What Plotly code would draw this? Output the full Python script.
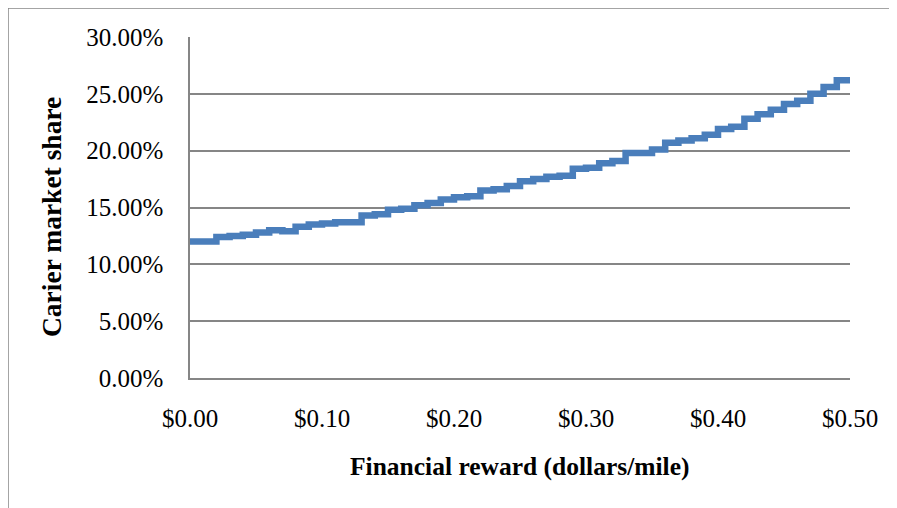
import plotly.graph_objects as go

# reward in dollars/mile, one point per cent
reward = [i / 100 for i in range(51)]
# carrier market share in percent
share = [11.8, 12.0, 12.0, 12.4, 12.5, 12.6, 12.8, 13.0, 12.9, 13.3,
         13.5, 13.6, 13.7, 13.7, 14.3, 14.4, 14.8, 14.9, 15.2, 15.4,
         15.7, 15.9, 16.0, 16.5, 16.6, 16.9, 17.3, 17.5, 17.7, 17.8,
         18.4, 18.5, 18.9, 19.1, 19.8, 19.8, 20.1, 20.7, 20.9, 21.1,
         21.4, 21.9, 22.1, 22.8, 23.2, 23.6, 24.1, 24.4, 25.0, 25.6,
         26.2]
x_ticks = [0, 0.1, 0.2, 0.3, 0.4, 0.5]
y_ticks = [0, 5, 10, 15, 20, 25, 30]

FONT = "Liberation Serif"

# page body adds 8px, so the figure is 8px smaller than the window
W, H = 889, 500
L, R, T, B = 182, 47, 29, 130
pw, ph = W - L - R, H - T - B

fig = go.Figure()
fig.add_trace(go.Scatter(x=reward, y=share, mode='lines', line_shape='vh',
                         line=dict(color='#4A7EBB', width=6.5), showlegend=False))

fig.update_layout(
    width=W, height=H,
    margin=dict(l=L, r=R, t=T, b=B),
    paper_bgcolor='white', plot_bgcolor='white',
    font=dict(family=FONT, size=25, color='black'),
    xaxis=dict(range=[0, 0.5], tickvals=x_ticks,
               ticktext=[f'${v:.2f}' for v in x_ticks],
               showgrid=False, zeroline=False,
               showline=True, linecolor='#868686', linewidth=1.5,
               ticks='', ticklabelstandoff=17),
    yaxis=dict(range=[0, 30], tickvals=y_ticks,
               ticktext=[f'{v:.2f}%' for v in y_ticks],
               showgrid=True, gridcolor='#868686', gridwidth=1.5,
               zeroline=False, showline=True, linecolor='#868686', linewidth=1.5,
               ticks='', ticklabelstandoff=20),
    annotations=[
        dict(text='<b>Financial reward (dollars/mile)</b>', xref='paper', yref='paper',
             x=0.5, y=-88 / ph, xanchor='center', yanchor='middle',
             showarrow=False, font=dict(size=25.5)),
        dict(text='<b>Carier market share</b>', xref='paper', yref='paper',
             x=-(190 - 51) / pw, y=(378 - 217) / ph, xanchor='center', yanchor='middle',
             textangle=-90, showarrow=False, font=dict(size=27.5)),
    ],
    shapes=[dict(type='rect', xref='paper', yref='paper',
                 x0=-(L - 0) / pw, x1=1.2, y0=-0.5, y1=1 + (T - 0) / ph,
                 line=dict(color='#868686', width=1.5), layer='below')],
)

fig.write_html("out.html")
